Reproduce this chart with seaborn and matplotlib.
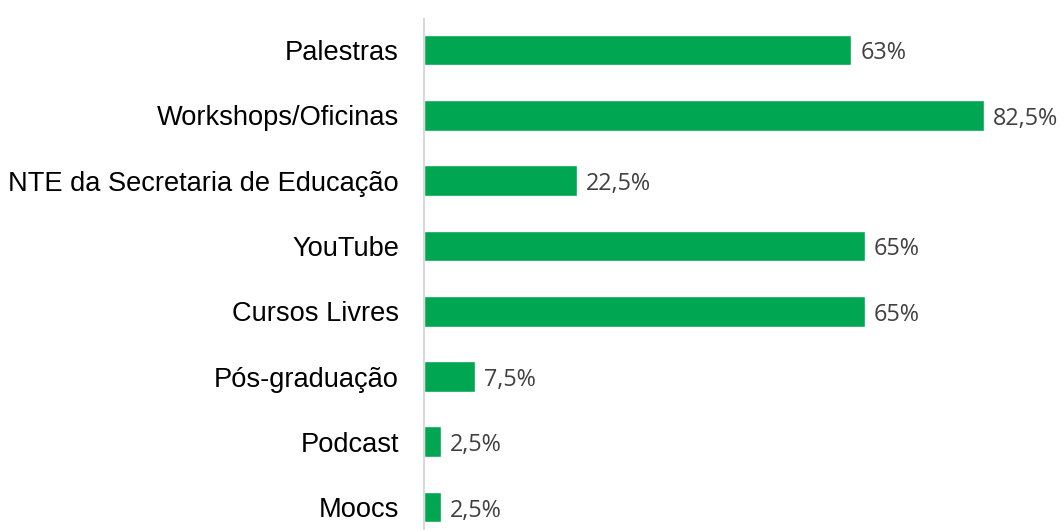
import matplotlib
matplotlib.use("Agg")
import matplotlib.pyplot as plt
import seaborn as sns
import pandas as pd

categories = ["Palestras", "Workshops/Oficinas", "NTE da Secretaria de Educação",
              "YouTube", "Cursos Livres", "Pós-graduação", "Podcast", "Moocs"]
values = [63, 82.5, 22.5, 65, 65, 7.5, 2.5, 2.5]
labels = ["63%", "82,5%", "22,5%", "65%", "65%", "7,5%", "2,5%", "2,5%"]

df = pd.DataFrame({"categoria": categories, "valor": values})

sns.set_style("white")
plt.rcParams["font.family"] = ["Liberation Sans", "DejaVu Sans"]

W, H = 1063, 530
fig = plt.figure(figsize=(W / 100, H / 100), dpi=100)
left_px, top_px = 424, 19
ax = fig.add_axes([left_px / W, 0, 1 - left_px / W, 1 - top_px / H])

green = "#00A651"
sns.barplot(data=df, y="categoria", x="valor", orient="h", color=green,
            width=0.47, saturation=1, ax=ax)

for i, (v, t) in enumerate(zip(values, labels)):
    ax.annotate(t, xy=(v, i), xytext=(6.5, -2.5), textcoords="offset points",
                ha="left", va="center", fontsize=16.8, color="#404040",
                family=["Open Sans", "DejaVu Sans"])

ax.set_xlim(0, 94.2)
ax.set_ylim(7.35, -0.475)
ax.set_xlabel("")
ax.set_ylabel("")
ax.set_xticks([])
for s in ["top", "right", "bottom"]:
    ax.spines[s].set_visible(False)
ax.spines["left"].set_color("#D9D9D9")
ax.spines["left"].set_linewidth(1.5)
ax.tick_params(axis="y", length=0, pad=18, labelsize=19.6, labelcolor="#000000")

fig.savefig("out.png", dpi=100, facecolor="white")
